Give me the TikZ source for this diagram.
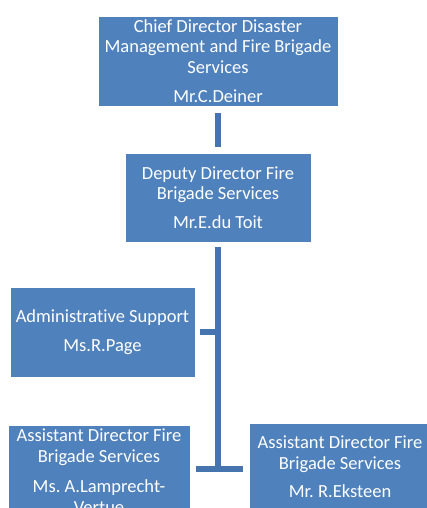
\documentclass[tikz,border=0pt]{standalone}
\usepackage{fontspec}
\setmainfont[Ligatures=NoCommon]{Carlito}
\definecolor{boxblue}{HTML}{4F81BD}
\definecolor{lineblue}{HTML}{4674AE}
\tikzset{
  orgbox/.style={rectangle, fill=boxblue, draw=white, line width=0.8pt,
    text=white, align=center, inner sep=0pt,
    font=\fontsize{18.5}{20.5}\selectfont\frenchspacing},
  orgline/.style={draw=lineblue, line width=6pt}
}
\begin{document}
\begin{tikzpicture}[x=1pt,y=-1pt]
\useasboundingbox (0,0) rectangle (427,508);
\clip (0,0) rectangle (427,508);
\node[orgbox, minimum width=240pt, minimum height=90pt] (chief) at (218,61)
  {Chief Director Disaster\\Management and Fire Brigade\\Services\\[9pt]Mr.C.Deiner};
\node[orgbox, minimum width=186pt, minimum height=89pt] (deputy) at (218,197.5)
  {Deputy Director Fire\\Brigade Services\\[8pt]Mr.E.du Toit};
\node[orgbox, minimum width=185pt, minimum height=90pt] (admin) at (102.5,332)
  {Administrative Support\\[8pt]Ms.R.Page};
\node[orgbox, minimum width=182pt, minimum height=92pt] (asstL) at (99,471)
  {Assistant Director Fire\\Brigade Services\\[10pt]Ms. A.Lamprecht-\\Vertue};
\node[orgbox, minimum width=182pt, minimum height=88pt] (asstR) at (340,467)
  {Assistant Director Fire\\Brigade Services\\[8pt]Mr. R.Eksteen};
\coordinate (j) at (218,469);
\draw[orgline, shorten <=7pt, shorten >=6pt] (chief.south) -- (deputy.north);
\draw[orgline, shorten <=5pt, shorten >=-3pt] (deputy.south) -- (j);
\draw[orgline, shorten <=5pt] (admin.east) -- (admin.east -| deputy.south);
\draw[orgline, shorten <=6pt, shorten >=6pt] (asstL.east |- j) -- (asstR.west |- j);
\end{tikzpicture}
\end{document}
